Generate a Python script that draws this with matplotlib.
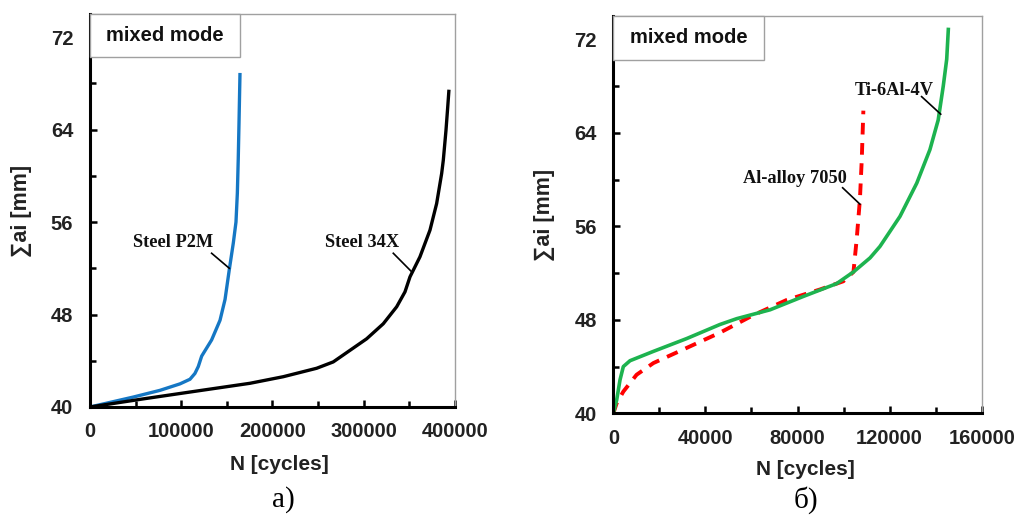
import matplotlib
matplotlib.use("Agg")
import matplotlib.pyplot as plt
from matplotlib.patches import Rectangle
from matplotlib.ticker import MultipleLocator

# ---- data ----
p2m_N = [0, 47500, 76700, 98600, 109600, 115000, 118700, 122400, 133300, 142500,
         148000, 152700, 157100, 160000, 161500, 162500, 163300, 164400]
p2m_a = [40, 40.86, 41.44, 42.0, 42.4, 42.9, 43.5, 44.4, 45.8, 47.5,
         49.3, 51.9, 54.2, 56.0, 58.5, 61.5, 64.5, 68.9]

s34x_N = [0, 60000, 120500, 175300, 211800, 248400, 266600, 284900, 303200, 321400,
          336100, 345200, 350700, 361600, 372600, 379900, 385400, 387200, 390100,
          392000, 393400]
s34x_a = [40, 40.72, 41.42, 42.05, 42.62, 43.35, 43.9, 44.9, 45.9, 47.2,
          48.67, 49.96, 51.26, 52.99, 55.3, 57.6, 60.2, 61.35, 63.9,
          65.9, 67.45]

ti_N = [0, 1450, 2900, 4340, 7240, 17400, 31900, 46300, 53600, 68100, 82500, 97000,
        104300, 111500, 115800, 124500, 131800, 137500, 141100, 143300, 144800, 145500]
ti_a = [40, 41.14, 42.86, 44.0, 44.5, 45.3, 46.4, 47.6, 48.1, 48.86, 50.0, 51.1,
        52.1, 53.3, 54.28, 56.85, 59.7, 62.56, 65.1, 68.0, 70.3, 72.85]

al_N = [0, 1450, 4340, 10100, 17400, 31900, 46300, 60800, 75300, 89800, 99900,
        104300, 105700, 107100, 107900, 108600]
al_a = [40, 40.86, 41.86, 43.3, 44.3, 45.6, 46.9, 48.4, 49.7, 50.6, 51.3,
        52.1, 54.9, 58.3, 61.7, 65.9]

y_ticks = [40, 48, 56, 64, 72]
x_ticks_left = [0, 100000, 200000, 300000, 400000]
x_ticks_right = [0, 40000, 80000, 120000, 160000]

SANS = "Liberation Sans"
SERIF = "Liberation Serif"

fig = plt.figure(figsize=(10.19, 5.18), dpi=100)
axL = fig.add_axes([0.0883, 0.2143, 0.3582, 0.7587])
axR = fig.add_axes([0.6019, 0.2021, 0.3615, 0.7670])


def style(ax, xticks, xminor):
    ax.set_ylim(40, 74)
    ax.set_xlim(xticks[0], xticks[-1])
    ax.set_yticks(y_ticks)
    ax.set_xticks(xticks)
    ax.yaxis.set_minor_locator(MultipleLocator(4))
    ax.xaxis.set_minor_locator(MultipleLocator(xminor))
    ax.set_xticklabels([str(t) for t in xticks])
    for s in ("left", "bottom"):
        ax.spines[s].set_color("black")
        ax.spines[s].set_linewidth(2.2)
    for s in ("top", "right"):
        ax.spines[s].set_color("#a0a0a0")
        ax.spines[s].set_linewidth(1.0)
    ax.tick_params(which="major", direction="in", length=5, width=1.8,
                   top=False, right=False, labelsize=14.5, pad=11)
    ax.tick_params(axis="y", which="major", pad=12)
    ax.tick_params(which="minor", direction="in", length=4, width=1.8,
                   top=False, right=False)
    for lab in ax.get_xticklabels() + ax.get_yticklabels():
        lab.set_fontfamily(SANS)
        lab.set_fontweight("bold")
        lab.set_color("#222222")
    ax.set_xlabel("N [cycles]", fontfamily=SANS, fontweight="bold", fontsize=15,
                  color="#222222")
    ax.set_ylabel("\u2211ai [mm]", fontfamily=SANS, fontweight="bold", fontsize=15.5,
                  color="#222222")
    # mixed mode box
    ax.add_patch(Rectangle((0, 0.89), 0.41, 0.11, transform=ax.transAxes,
                           facecolor="white", edgecolor="#a0a0a0", lw=1.0,
                           zorder=5, clip_on=False))
    ax.text(0.045, 0.945, "mixed mode", transform=ax.transAxes, fontfamily=SANS,
            fontweight="bold", fontsize=14.5, va="center", ha="left", zorder=6,
            color="#111111")


style(axL, x_ticks_left, 50000)
style(axR, x_ticks_right, 20000)

axL.xaxis.set_label_coords(0.52, -0.122)
axL.yaxis.set_label_coords(-0.159, 0.5)
axR.xaxis.set_label_coords(0.52, -0.118)
axR.yaxis.set_label_coords(-0.158, 0.5)

# curves
axL.plot(p2m_N, p2m_a, color="#1577c4", lw=2.4, solid_capstyle="butt")
axL.plot(s34x_N, s34x_a, color="black", lw=2.4, solid_capstyle="butt")
axR.plot(al_N, al_a, color="#ff0000", lw=2.8, ls=(0, (3, 2.2)))
axR.plot(ti_N, ti_a, color="#1db34f", lw=2.6)

ann = dict(fontfamily=SERIF, fontweight="bold", fontsize=13.2, va="center",
           ha="left", color="#111111")
axL.text(47500, 54.2, "Steel P2M", **ann)
axL.plot([133300, 152700], [53.3, 52.0], color="black", lw=1.2)
axL.text(257500, 54.2, "Steel 34X", **ann)
axL.plot([332400, 352500], [53.3, 51.7], color="black", lw=1.2)

axR.text(105000, 67.6, "Ti-6Al-4V", **ann)
axR.plot([133900, 142200], [67.1, 65.6], color="black", lw=1.2)
axR.text(56500, 60.1, "Al-alloy 7050", **ann)
axR.plot([99600, 107100], [59.3, 57.9], color="black", lw=1.2)

# panel captions
fig.text(283 / 1019, 1 - 500 / 518, "a)", fontfamily=SERIF, fontsize=21,
         ha="center", va="center")
fig.text(806 / 1019, 1 - 500 / 518, "\u0431)", fontfamily=SERIF, fontsize=21,
         ha="center", va="center")

fig.savefig("out.png", dpi=100)
